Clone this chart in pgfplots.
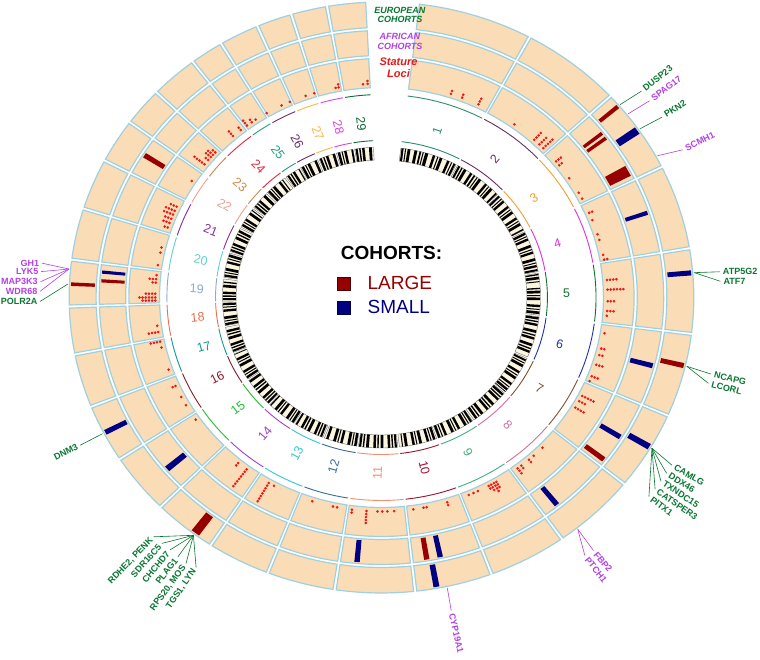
\documentclass[border=0pt]{standalone}
\usepackage{fontspec}
\setmainfont{Liberation Sans}
\usepackage{pgfplots}
\pgfplotsset{compat=1.18}

\definecolor{tilefill}{RGB}{250,221,183}
\definecolor{tileedge}{RGB}{160,208,222}
\definecolor{large}{RGB}{150,0,0}
\definecolor{small}{RGB}{0,0,130}
\definecolor{dotred}{RGB}{238,22,22}
\definecolor{eugreen}{RGB}{8,118,48}
\definecolor{afpurple}{RGB}{178,64,228}
\definecolor{locired}{RGB}{232,24,24}
\definecolor{cream}{RGB}{252,245,222}
\definecolor{c1}{RGB}{46,139,110}
\definecolor{c2}{RGB}{110,45,92}
\definecolor{c3}{RGB}{240,160,48}
\definecolor{c4}{RGB}{224,48,224}
\definecolor{c5}{RGB}{16,112,48}
\definecolor{c6}{RGB}{32,48,176}
\definecolor{c7}{RGB}{128,80,48}
\definecolor{c8}{RGB}{208,112,160}
\definecolor{c9}{RGB}{64,176,128}
\definecolor{c10}{RGB}{160,16,48}
\definecolor{c11}{RGB}{240,144,112}
\definecolor{c12}{RGB}{58,106,154}
\definecolor{c13}{RGB}{48,200,208}
\definecolor{c14}{RGB}{160,64,200}
\definecolor{c15}{RGB}{32,192,48}
\definecolor{c16}{RGB}{138,26,42}
\definecolor{c17}{RGB}{16,152,152}
\definecolor{c18}{RGB}{232,112,80}
\definecolor{c19}{RGB}{138,170,208}
\definecolor{c20}{RGB}{96,208,208}
\definecolor{c21}{RGB}{138,42,160}
\definecolor{c22}{RGB}{240,160,144}
\definecolor{c23}{RGB}{208,136,72}
\definecolor{c24}{RGB}{224,40,64}
\definecolor{c25}{RGB}{32,160,128}
\definecolor{c26}{RGB}{112,40,104}
\definecolor{c27}{RGB}{248,184,72}
\definecolor{c28}{RGB}{224,64,224}
\definecolor{c29}{RGB}{16,104,56}

\newcommand\genefont{\bfseries\fontsize{9}{10}\selectfont}
\newcommand\chrfont{\fontsize{12.5}{14}\selectfont}

% annular sector from angle #1 to #2, radius #3 to #4, plot options #5
\newcommand\sector[5]{%
  \gdef\pts{}%
  \foreach \i in {0,...,8}{\pgfmathsetmacro\angA{(#1)+((#2)-(#1))*\i/8}\xdef\pts{\pts(\angA,#4)}}%
  \foreach \i in {8,...,0}{\pgfmathsetmacro\angA{(#1)+((#2)-(#1))*\i/8}\xdef\pts{\pts(\angA,#3)}}%
  \edef\temp{\noexpand\addplot[data cs=polar,forget plot,#5] coordinates {\pts} -- cycle;}\temp}
% arc from angle #1 to #2 at radius #3
\newcommand\arcline[4]{%
  \gdef\pts{}%
  \foreach \i in {0,...,8}{\pgfmathsetmacro\angA{(#1)+((#2)-(#1))*\i/8}\xdef\pts{\pts(\angA,#3)}}%
  \edef\temp{\noexpand\addplot[data cs=polar,forget plot,#4] coordinates {\pts};}\temp}

\begin{document}
\begin{tikzpicture}
\begin{axis}[
  scale only axis, width=760pt, height=659pt,
  xmin=-360.9, xmax=358.1, ymin=-361.5, ymax=297.5,
  hide axis, clip=false,
  legend style={at={(0.4435,0.584)}, anchor=north west, draw=none, fill=none,
    font=\fontsize{19}{21}\selectfont, row sep=5.5pt, inner sep=0pt,
    /tikz/every odd column/.append style={column sep=15pt}},
  legend cell align=left,
  legend image code/.code={\draw[#1] (0pt,-6.5pt) rectangle (13pt,6.5pt);},
]
% chromosomes (length in Mb): clockwise from 83 deg, 0.1327 deg per Mb, 0.6 deg gaps
\xdef\cur{83}
\foreach \cn/\len in {1/158.3,2/137.0,3/121.4,4/120.6,5/121.2,6/119.5,7/112.6,8/113.4,
  9/105.7,10/104.3,11/107.3,12/91.2,13/84.2,14/84.6,15/85.3,16/81.7,17/75.2,18/66.0,
  19/64.1,20/72.0,21/71.6,22/61.4,23/52.5,24/62.7,25/42.9,26/51.7,27/45.4,28/46.3,29/51.5}{%
  \pgfmathsetmacro\sa{\cur}%
  \pgfmathsetmacro\ea{\cur-0.1327*\len}%
  \expandafter\xdef\csname chrst\cn\endcsname{\sa}%
  \sector{\sa}{\ea}{210}{239}{fill=tilefill,draw=tileedge,line width=1.2pt}%
  \sector{\sa}{\ea}{242}{267}{fill=tilefill,draw=tileedge,line width=1.2pt}%
  \sector{\sa}{\ea}{270}{295.5}{fill=tilefill,draw=tileedge,line width=1.2pt}%
  \arcline{\sa}{\ea}{203}{draw=c\cn,line width=0.9pt}%
  \arcline{\sa}{\ea}{157}{draw=c\cn,line width=0.9pt}%
  \sector{\sa}{\ea}{137.5}{150.5}{fill=cream,draw=black!55,line width=0.4pt}%
  \pgfmathsetmacro\ma{(\sa+\ea)/2}%
  \pgfmathsetmacro\xx{175*cos(\ma)}%
  \pgfmathsetmacro\yy{175*sin(\ma)}%
  \pgfmathsetmacro\rot{atan2(sin(\ma),1.057*cos(\ma))}%
  \pgfmathsetmacro\rot{ifthenelse(cos(\ma)<0,\rot+180,\rot)}%
  \edef\temp{\noexpand\node[rotate=\rot,text=c\cn,font=\noexpand\chrfont] at (axis cs:\xx,\yy) {\cn};}\temp
  \pgfmathsetmacro\nx{\ea-0.6}\xdef\cur{\nx}%
}
% ideogram dark bands (Mb)
\foreach \cn/\bl in {
 1/{2/8,12/15,19/27,38/46,52/57,61/64,68/77,90/97,103/106,110/118,132/139,144/147,151/157},
 2/{3/9,13/17,21/29,41/48,53/58,63/66,70/78,92/99,104/107,111/119,131/136},
 3/{1/7,12/15,19/26,39/46,51/54,58/66,79/86,91/94,98/106,117/121},
 4/{3/10,14/17,21/28,41/49,54/57,61/68,81/89,94/97,101/108,113/119},
 5/{2/6,10/18,23/26,42/46,50/58,63/66,70/78,91/98,103/106,110/118},
 6/{1/8,12/16,20/27,39/47,52/56,60/67,79/87,92/96,100/107},
 7/{3/9,13/16,20/28,41/48,53/56,60/68,81/88,93/96,100/107,110/112},
 8/{2/9,13/17,21/28,40/48,53/57,61/68,80/88,93/97,101/108},
 9/{1/7,11/14,18/26,39/46,51/54,58/66,79/86,91/94,98/105},
 10/{3/10,14/17,21/28,41/49,54/57,61/68,81/89,94/97},
 11/{2/8,12/16,20/27,39/47,52/56,60/67,79/87,92/96,100/106},
 12/{1/8,12/15,19/27,40/47,52/55,59/67,80/87},
 13/{3/9,13/17,21/28,40/48,53/57,61/68,79/84},
 14/{2/9,13/16,20/28,41/48,53/56,60/68,80/84},
 15/{1/7,11/15,19/26,38/46,51/55,59/66,78/85},
 16/{3/10,14/17,21/28,41/49,54/57,61/68,79/81},
 17/{2/8,12/16,20/27,39/47,52/56,60/67},
 18/{1/8,12/15,19/27,40/47,52/55,59/65},
 19/{3/9,13/17,21/28,40/48,53/57},
 20/{2/9,13/16,20/28,41/48,53/56,60/68},
 21/{1/7,11/15,19/26,38/46,51/55,59/66},
 22/{3/10,14/17,21/28,41/49,54/57},
 23/{2/8,12/16,20/27,39/47},
 24/{1/8,12/15,19/27,40/47,52/55},
 25/{3/9,13/17,21/28,39/42},
 26/{2/9,13/16,20/28,41/48},
 27/{1/7,11/15,19/26,38/45},
 28/{3/10,14/17,21/28,41/46},
 29/{2/8,12/16,20/27,39/47}}{%
  \edef\st{\csname chrst\cn\endcsname}%
  \foreach \p/\q in \bl {%
    \pgfmathsetmacro\angA{\st-0.1327*\p}%
    \pgfmathsetmacro\angB{\st-0.1327*\q}%
    \edef\temp{\noexpand\addplot[data cs=polar,forget plot,draw=black,line width=13pt] coordinates {(\angA,144) (\angB,144)};}\temp
  }%
}
% cohort hits: angle / width / inner r / outer r / size class
\foreach \ang/\w/\ri/\ro/\col in {
 40.5/0.8/271.5/294/large, 34.6/1.5/271.5/294/small, 4.8/1.0/271.5/294/small,
 -13.4/1.0/271.5/294/large, -30.5/1.2/271.5/294/small, -79.8/1.1/271.5/294/small,
 -126.8/1.7/271.5/294/large, -152.7/1.0/271.5/294/small, 177.4/0.7/271.5/294/large,
 38.2/0.75/243.5/265.5/large, 36.9/0.75/243.5/265.5/large, 28.5/2.4/243.5/265.5/large,
 18.6/0.9/243.5/265.5/small, -14.9/1.1/243.5/265.5/small, -31.7/1.1/243.5/265.5/small,
 -37.6/1.1/243.5/265.5/large, -51.3/1.1/243.5/265.5/small, -77.9/1.1/243.5/265.5/small,
 -80.7/1.1/243.5/265.5/large, -95.0/1.1/243.5/265.5/small, -139.8/1.3/243.5/265.5/small,
 174.5/0.7/243.5/265.5/small, 176.4/0.7/243.5/265.5/large, 147.6/1.1/243.5/265.5/large}{%
  \pgfmathsetmacro\angA{\ang-\w/2}\pgfmathsetmacro\angB{\ang+\w/2}%
  \edef\temp{\noexpand\addplot[data cs=polar,forget plot,fill=\col,draw=none] coordinates {(\angA,\ri) (\angB,\ri) (\angB,\ro) (\angA,\ro)} -- cycle;}\temp
}
% stature loci: angle / number of stacked hits
\gdef\dotpts{}
\foreach \ang/\n in {72.1/2,69.1/2,64.6/3,54.0/1,47.5/4,45.7/4,44.3/5,39.5/3,38.2/2,33.9/1,
 29.3/1,27.5/1,23.3/2,21.2/1,17.2/1,15.6/1,11.5/1,10.2/2,4.7/4,2.1/6,-1.0/3,-3.6/3,-4.9/1,
 -9.6/1,-13.8/2,-15.6/2,-18.3/3,-21.6/3,-23.0/1,-27.4/5,-29.0/3,-31.0/4,-44.6/1,-47.7/1,
 -49.3/2,-51.8/2,-53.0/3,-59.5/3,-60.2/4,-61.0/3,-61.7/2,-64.8/1,-66.0/1,-67.3/1,-73.1/2,
 -78.5/1,-79.3/1,-81.9/1,-86.8/1,-88.5/1,-89.8/1,-91.0/1,-93.8/5,-97.5/2,-101.3/1,-102.4/1,
 -107.8/1,-118.4/1,-119.9/8,-126.6/8,-129.3/2,-145.2/1,-149.8/1,-152.3/1,-155.6/2,-160.3/1,
 -166.5/1,-168.1/4,-170.7/4,-172.4/1,174.0/1,175.1/3,176.0/2,179.0/4,180.0/6,180.8/5,
 171.3/1,167.9/1,166.5/1,154.9/3,156.1/4,157.2/4,158.4/3,159.6/3,160.9/2,147.0/1,141.5/5,
 140.0/2,139.0/3,138.2/3,137.3/2,131.0/3,128.5/2,126.5/3,125.0/2,123.8/1,120.5/1,116.2/1,
 113.9/1,109.6/1,107.3/1,101.7/1,100.9/2,94.7/1,93.5/2}{%
  \foreach \k in {1,...,\n}{%
    \pgfmathsetmacro\rr{214+3*(\k-1)}%
    \xdef\dotpts{\dotpts(\ang,\rr)}}}
\edef\temp{\noexpand\addplot[data cs=polar,forget plot,only marks,mark=*,mark size=1.1pt,color=dotred] coordinates {\dotpts};}\temp
% leader lines
\foreach \la/\lb/\lr/\col in {40.5/40.0/321/eugreen,38.2/37.8/321/afpurple,34.6/34.2/321/eugreen,
 28.5/27.4/321/afpurple,4.8/4.6/321/eugreen,4.8/2.9/321/eugreen,-13.4/-13.8/321/eugreen,
 -13.4/-15.5/321/eugreen,-30.5/-31.4/322/eugreen,-30.5/-33.1/322/eugreen,-30.5/-34.8/322/eugreen,
 -30.5/-36.5/322/eugreen,-30.5/-38.2/322/eugreen,-51.3/-51.6/323/afpurple,-51.3/-53.3/322/afpurple,
 -77.9/-78.1/320/afpurple,-126.8/-132.0/322/eugreen,-126.8/-130.2/322/eugreen,
 -126.8/-128.4/322/eugreen,-126.8/-126.6/323/eugreen,-126.8/-124.8/324/eugreen,
 -126.8/-123.0/322/eugreen,-152.7/-152.6/321/eugreen,174.5/173.9/323/afpurple,
 174.5/175.4/323/afpurple,174.5/177.2/323/afpurple,174.5/178.9/323/afpurple,177.4/180.7/323/eugreen}{%
  \edef\temp{\noexpand\addplot[data cs=polar,forget plot,draw=\col,line width=0.6pt] coordinates {(\la,297) (\lb,\lr)};}\temp
}
% gene names, set along the radius
\foreach \ang/\rr/\anc/\col/\txt in {40.0/323/west/eugreen/DUSP23,37.8/323/west/afpurple/SPAG17,
 34.2/323/west/eugreen/PKN2,27.4/323/west/afpurple/SCMH1,-13.8/323/west/eugreen/NCAPG,
 -15.5/323/west/eugreen/LCORL,-31.4/324/west/eugreen/CAMLG,-33.1/324/west/eugreen/DDX46,
 -34.8/324/west/eugreen/TXNDC15,-36.5/324/west/eugreen/CATSPER3,-38.2/324/west/eugreen/PITX1,
 -51.6/325/west/afpurple/FBP2,-53.3/324/west/afpurple/PTCH1,-78.1/322/west/afpurple/CYP19A1,
 -132.0/324/east/eugreen/{RDHE2, PENK},-130.2/324/east/eugreen/SDR16C5,
 -128.4/324/east/eugreen/CHCHD7,-126.6/325/east/eugreen/PLAG1,-124.8/326/east/eugreen/{RPS20, MOS},
 -123.0/324/east/eugreen/{TGS1, LYN},-152.6/323/east/eugreen/DNM3}{%
  \pgfmathsetmacro\xx{\rr*cos(\ang)}\pgfmathsetmacro\yy{\rr*sin(\ang)}%
  \pgfmathsetmacro\rot{atan2(sin(\ang),1.057*cos(\ang))}%
  \pgfmathsetmacro\rot{ifthenelse(cos(\ang)<0,\rot+180,\rot)}%
  \edef\temp{\noexpand\node[rotate=\rot,anchor=\anc,inner sep=1pt,text=\col,font=\noexpand\genefont] at (axis cs:\xx,\yy) {\txt};}\temp
}
% gene names, set level
\foreach \ang/\rr/\anc/\col/\txt in {4.6/323/west/eugreen/ATP5G2,2.9/323/west/eugreen/ATF7,
 173.9/324.5/east/afpurple/GH1,175.4/324.5/east/afpurple/LYK5,177.2/324.5/east/afpurple/MAP3K3,
 178.9/324.5/east/afpurple/WDR68,180.7/324.5/east/eugreen/POLR2A}{%
  \pgfmathsetmacro\xx{\rr*cos(\ang)}\pgfmathsetmacro\yy{\rr*sin(\ang)}%
  \edef\temp{\noexpand\node[anchor=\anc,inner sep=1pt,text=\col,font=\noexpand\genefont] at (axis cs:\xx,\yy) {\txt};}\temp
}
% track titles in the gap
\node[font=\bfseries\itshape\fontsize{9}{9.5}\selectfont,text=eugreen,align=center] at (axis cs:17.5,282.5) {EUROPEAN\\COHORTS};
\node[font=\bfseries\itshape\fontsize{9}{10}\selectfont,text=afpurple,align=center] at (axis cs:17.5,256.5) {AFRICAN\\COHORTS};
\node[font=\bfseries\itshape\fontsize{11}{12}\selectfont,text=locired,align=center] at (axis cs:16.1,229.5) {Stature\\Loci};
% legend
\node[font=\bfseries\fontsize{19}{22}\selectfont] at (axis cs:9.5,45) {COHORTS:};
\addlegendimage{fill=large,draw=black!50!large}
\addlegendentry{\textcolor{large}{LARGE}}
\addlegendimage{fill=small,draw=black!50!small}
\addlegendentry{\textcolor{small}{SMALL}}
\end{axis}
\pgfresetboundingbox
\path (current axis.south west) rectangle (current axis.north east);
\end{tikzpicture}
\end{document}
